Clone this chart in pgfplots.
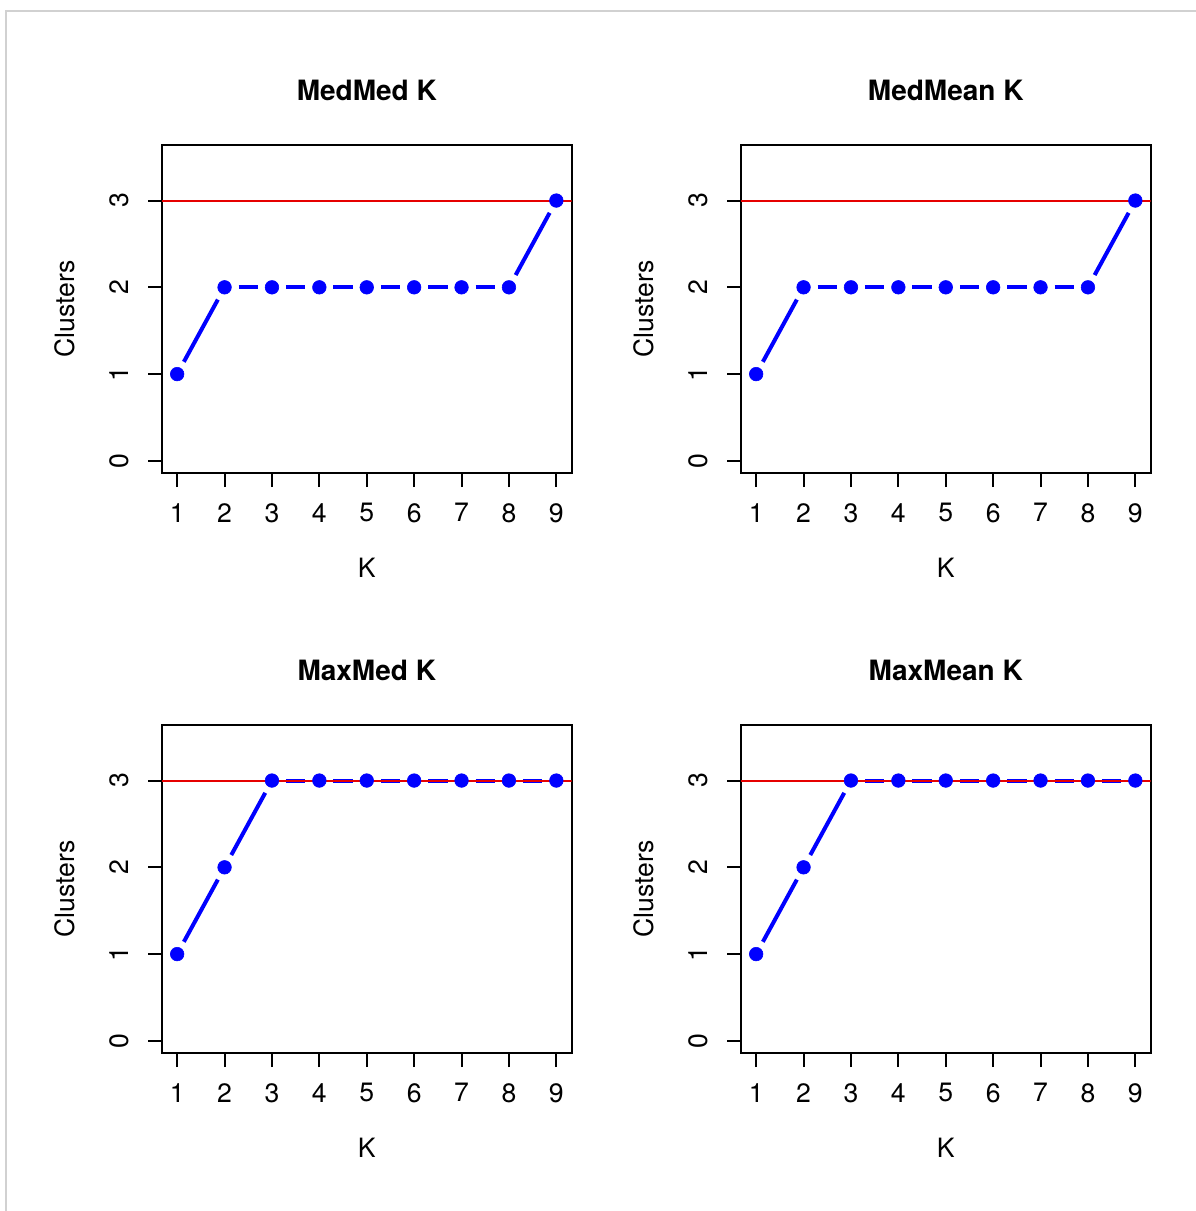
\documentclass[border=0pt]{standalone}
\usepackage{fontspec}
\setmainfont{TeX Gyre Heros}
\usepackage{pgfplots}
\pgfplotsset{compat=1.18}
\definecolor{rblue}{RGB}{0,0,255}
\definecolor{rred}{RGB}{230,0,0}
\pgfplotsset{
  rplot/.style={
    scale only axis, width=204.75pt, height=164pt,
    xmin=0.68, xmax=9.32, ymin=-0.14, ymax=3.64,
    xtick={1,2,3,4,5,6,7,8,9}, ytick={0,1,2,3},
    xtick pos=left, ytick pos=left,
    tick align=outside, major tick length=7pt,
    axis line style={line width=1pt, black},
    major tick style={line width=1pt, black},
    tick label style={font=\fontsize{13.3}{16}\selectfont},
    /pgf/number format/assume math mode=true,
    xticklabel style={inner sep=0pt, anchor=north},
    xticklabel shift=8pt,
    yticklabel style={rotate=90, anchor=south, inner sep=0pt},
    yticklabel shift=9.5pt,
    every axis x label/.style={at={(rel axis cs:0.5,0)}, anchor=base, yshift=-52pt, inner sep=0pt, font=\fontsize{13.3}{16}\selectfont},
    every axis y label/.style={at={(rel axis cs:0,0.5)}, xshift=-43.5pt, rotate=90, anchor=south, inner sep=0pt, font=\fontsize{13.3}{16}\selectfont},
    title style={at={(rel axis cs:0.5,1)}, anchor=base, yshift=16.5pt, inner sep=0pt, font=\fontsize{14}{17}\selectfont\bfseries},
    xlabel={K}, ylabel={Clusters},
  },
  seg/.style={rblue, line width=2pt, shorten <=7pt, shorten >=7pt, forget plot},
  pts/.style={rblue, only marks, mark=*, mark size=3.4pt, mark options={fill=rblue, draw=rblue, line width=0.3pt}, forget plot},
  href/.style={rred, line width=1pt, forget plot},
}
\begin{document}
\begin{tikzpicture}
\useasboundingbox (0,0) rectangle (597.5pt,-605.5pt);
\draw[black!18, line width=1pt] (3pt,-606pt) -- (3pt,-5.5pt) -- (598pt,-5.5pt);

% ---------- MedMed K ----------
\begin{axis}[rplot, at={(81pt,-72.5pt)}, anchor=north west, title={MedMed K}]
\addplot[seg] coordinates {(1,1) (2,2)};
\addplot[seg] coordinates {(2,2) (3,2)};
\addplot[seg] coordinates {(3,2) (4,2)};
\addplot[seg] coordinates {(4,2) (5,2)};
\addplot[seg] coordinates {(5,2) (6,2)};
\addplot[seg] coordinates {(6,2) (7,2)};
\addplot[seg] coordinates {(7,2) (8,2)};
\addplot[seg] coordinates {(8,2) (9,3)};
\addplot[href] coordinates {(0.68,3) (9.32,3)};
\addplot[pts] coordinates {(1,1) (2,2) (3,2) (4,2) (5,2) (6,2) (7,2) (8,2) (9,3)};
\end{axis}

% ---------- MedMean K ----------
\begin{axis}[rplot, at={(370.5pt,-72.5pt)}, anchor=north west, title={MedMean K}]
\addplot[seg] coordinates {(1,1) (2,2)};
\addplot[seg] coordinates {(2,2) (3,2)};
\addplot[seg] coordinates {(3,2) (4,2)};
\addplot[seg] coordinates {(4,2) (5,2)};
\addplot[seg] coordinates {(5,2) (6,2)};
\addplot[seg] coordinates {(6,2) (7,2)};
\addplot[seg] coordinates {(7,2) (8,2)};
\addplot[seg] coordinates {(8,2) (9,3)};
\addplot[href] coordinates {(0.68,3) (9.32,3)};
\addplot[pts] coordinates {(1,1) (2,2) (3,2) (4,2) (5,2) (6,2) (7,2) (8,2) (9,3)};
\end{axis}

% ---------- MaxMed K ----------
\begin{axis}[rplot, at={(81pt,-362.5pt)}, anchor=north west, title={MaxMed K}]
\addplot[seg] coordinates {(1,1) (2,2)};
\addplot[seg] coordinates {(2,2) (3,3)};
\addplot[seg] coordinates {(3,3) (4,3)};
\addplot[seg] coordinates {(4,3) (5,3)};
\addplot[seg] coordinates {(5,3) (6,3)};
\addplot[seg] coordinates {(6,3) (7,3)};
\addplot[seg] coordinates {(7,3) (8,3)};
\addplot[seg] coordinates {(8,3) (9,3)};
\addplot[href] coordinates {(0.68,3) (9.32,3)};
\addplot[pts] coordinates {(1,1) (2,2) (3,3) (4,3) (5,3) (6,3) (7,3) (8,3) (9,3)};
\end{axis}

% ---------- MaxMean K ----------
\begin{axis}[rplot, at={(370.5pt,-362.5pt)}, anchor=north west, title={MaxMean K}]
\addplot[seg] coordinates {(1,1) (2,2)};
\addplot[seg] coordinates {(2,2) (3,3)};
\addplot[seg] coordinates {(3,3) (4,3)};
\addplot[seg] coordinates {(4,3) (5,3)};
\addplot[seg] coordinates {(5,3) (6,3)};
\addplot[seg] coordinates {(6,3) (7,3)};
\addplot[seg] coordinates {(7,3) (8,3)};
\addplot[seg] coordinates {(8,3) (9,3)};
\addplot[href] coordinates {(0.68,3) (9.32,3)};
\addplot[pts] coordinates {(1,1) (2,2) (3,3) (4,3) (5,3) (6,3) (7,3) (8,3) (9,3)};
\end{axis}
\end{tikzpicture}
\end{document}
